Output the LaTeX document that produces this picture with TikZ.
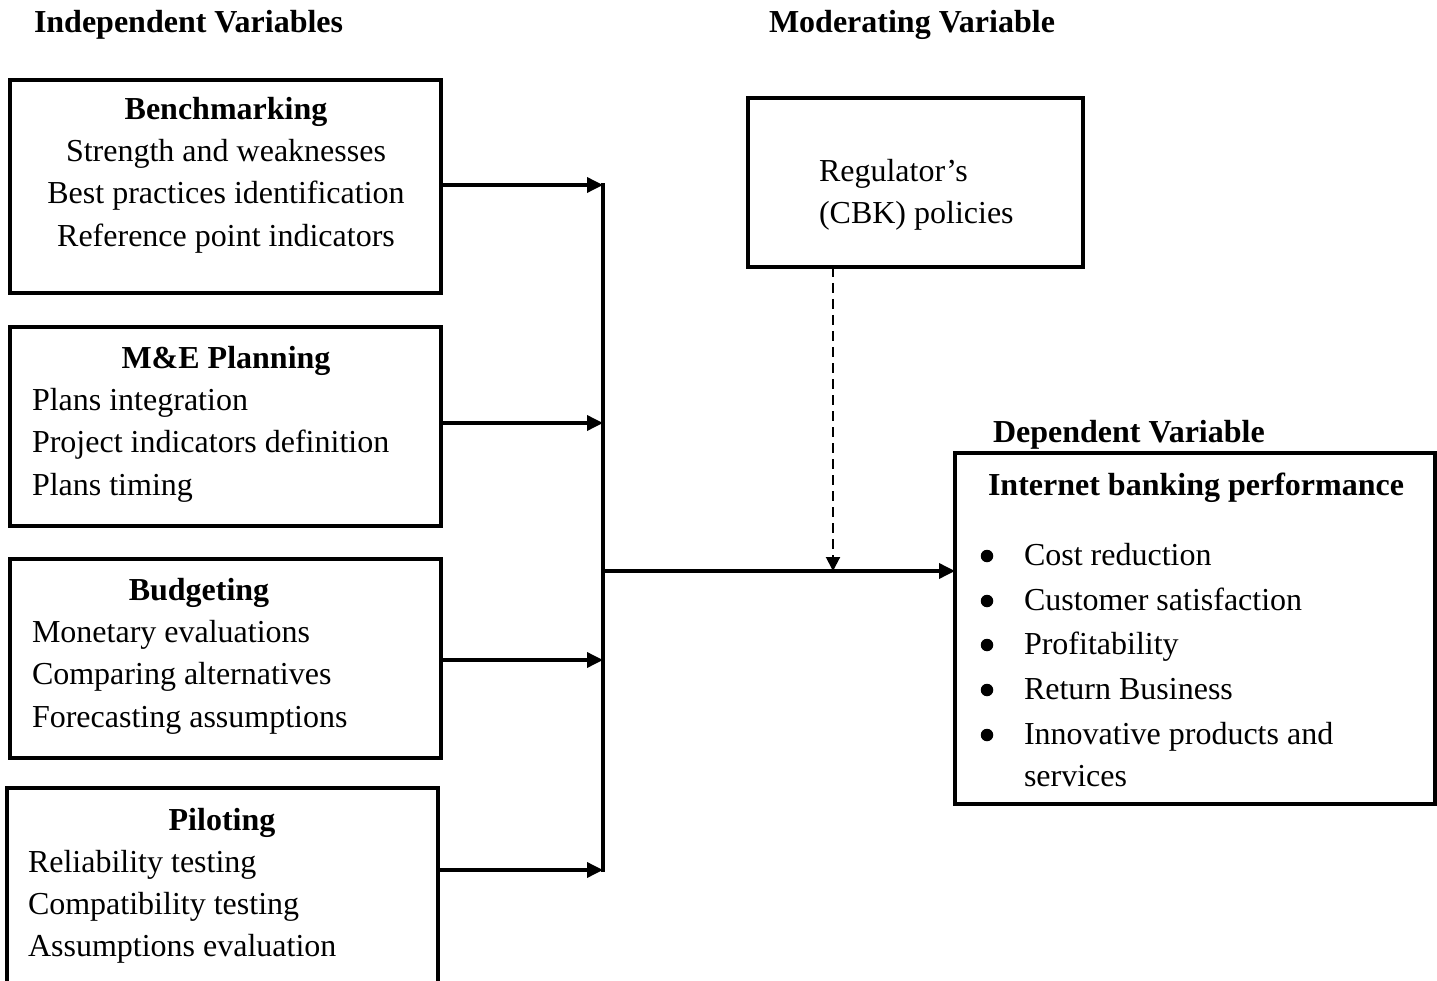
\documentclass[tikz,border=0pt]{standalone}
\usepackage{fontspec}
\setmainfont{Liberation Serif}
\usetikzlibrary{arrows.meta}
\begin{document}
\begin{tikzpicture}[x=1pt,y=-1pt,
  every node/.style={inner sep=0pt, outer sep=0pt, font=\fontsize{32}{43}\selectfont},
  boxnode/.style={draw, line width=3.5pt, anchor=north west},
  txt/.style={anchor=base west},
  ctxt/.style={anchor=base},
  hdr/.style={anchor=base west, font=\fontsize{32}{43}\selectfont\bfseries},
  chdr/.style={anchor=base, font=\fontsize{32}{43}\selectfont\bfseries},
  bulletdot/.style={circle, fill=black, minimum size=12.5pt},
  link/.style={line width=3.5pt, -{Triangle[length=16pt,width=15pt]}},
  dlink/.style={line width=2pt, dash pattern=on 10pt off 6pt, -{Triangle[length=14pt,width=14pt]}}
]
\useasboundingbox (0,0) rectangle (1437,981);
\fill[white] (0,0) rectangle (1437,981);

% headers
\node[hdr] (hind) at (34,33) {Independent Variables};
\node[hdr] (hmod) at (769,33) {Moderating Variable};
\node[hdr] (hdep) at (993,442) {Dependent Variable};

% boxes
\node[boxnode, minimum width=431pt, minimum height=213pt] (b1) at (10,80) {};
\node[boxnode, minimum width=431pt, minimum height=199pt] (b2) at (10,327) {};
\node[boxnode, minimum width=431pt, minimum height=199pt] (b3) at (10,559) {};
\node[boxnode, minimum width=431pt, minimum height=230pt] (b4) at (7,788) {};
\node[boxnode, minimum width=335pt, minimum height=169pt] (reg) at (748,98) {};
\node[boxnode, minimum width=480pt, minimum height=351pt] (dep) at (955,453) {};

% box 1
\node[chdr] (t1) at (226,120) {Benchmarking};
\node[ctxt] (t1a) at (226,162) {Strength and weaknesses};
\node[ctxt] (t1b) at (226,204) {Best practices identification};
\node[ctxt] (t1c) at (226,247) {Reference point indicators};
% box 2
\node[chdr] (t2) at (226,368) {M\&E Planning};
\node[txt] (t2a) at (32,410) {Plans integration};
\node[txt] (t2b) at (32,452) {Project indicators definition};
\node[txt] (t2c) at (32,495) {Plans timing};
% box 3
\node[chdr] (t3) at (199,600) {Budgeting};
\node[txt] (t3a) at (32,642) {Monetary evaluations};
\node[txt] (t3b) at (32,684) {Comparing alternatives};
\node[txt] (t3c) at (32,727) {Forecasting assumptions};
% box 4
\node[chdr] (t4) at (222,830) {Piloting};
\node[txt] (t4a) at (28,872) {Reliability testing};
\node[txt] (t4b) at (28,914) {Compatibility testing};
\node[txt] (t4c) at (28,956) {Assumptions evaluation};
% regulator
\node[txt] (r1) at (819,182) {Regulator’s};
\node[txt] (r2) at (819,224) {(CBK) policies};
% dependent
\node[chdr] (d0) at (1196,495) {Internet banking performance};
\foreach \y/\t [count=\i] in {565/Cost reduction,610/Customer satisfaction,654/Profitability,699/Return Business,744/Innovative products and}{
  \node[bulletdot] (db\i) at (987,\y-9) {};
  \node[txt] (d\i) at (1024,\y) {\t};
}
\node[txt] (d6) at (1024,786) {services};

% connectors
\coordinate (s1) at (603,185);
\coordinate (s2) at (603,423);
\coordinate (s3) at (603,660);
\coordinate (s4) at (603,870);
\coordinate (sm) at (603,571);
\coordinate (dx) at (833,571);
\draw[line width=3.5pt] (603,183.5) -- (603,871.5);
\draw[link] (b1.east |- s1) -- (s1);
\draw[link] (b2.east |- s2) -- (s2);
\draw[link] (b3.east |- s3) -- (s3);
\draw[link] (b4.east |- s4) -- (s4);
\draw[link] (sm) -- (dep.west |- sm);
\draw[dlink] (reg.south -| dx) -- (dx);
\end{tikzpicture}
\end{document}
